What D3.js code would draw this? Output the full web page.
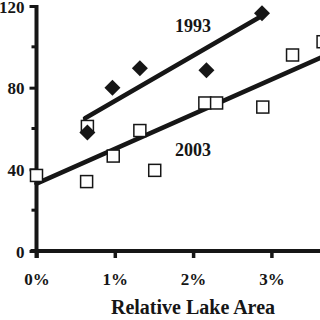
<!DOCTYPE html>
<html><head><meta charset="utf-8">
<script src="https://cdn.jsdelivr.net/npm/d3@7"></script>
<style>html,body{margin:0;padding:0;background:#fff;overflow:hidden}</style>
</head><body>
<svg id="c" width="320" height="320"></svg>
<script>
// Data
const x1993 = [0.65, 0.97, 1.32, 2.17, 2.88];
const y1993 = [58, 80, 89.5, 88.5, 116.5];
const x2003 = [0, 0.64, 0.65, 0.98, 1.32, 1.51, 2.15, 2.30, 2.89, 3.27, 3.66];
const y2003 = [37, 34, 61, 46.5, 59, 39.5, 72.5, 72.5, 70.5, 96, 102.5];
const fit1993 = [[0.62, 65], [2.87, 115]];
const fit2003 = [[0, 33], [3.65, 95]];
const xTicks = [0, 1, 2, 3];
const xTickLabels = ["0%", "1%", "2%", "3%"];
const yTicks = [0, 40, 80, 120];
const yMinorTicks = [20, 60, 100];
const seriesLabels = [{text: "1993", x: 2.0, y: 107.5}, {text: "2003", x: 2.0, y: 46.5}];
const xTitle = "Relative Lake Area";

const ink = "#161616";
const font = "'Liberation Serif','Times New Roman',serif";
const svg = d3.select("#c");
const x = d3.scaleLinear().domain([0, 4]).range([36.5, 349.7]);
const y = d3.scaleLinear().domain([0, 120]).range([251, 6]);

// axes
const gx = svg.append("g").attr("transform", `translate(0,${y(0)})`)
  .call(d3.axisBottom(x).tickValues(xTicks).tickSize(7).tickFormat((d,i)=>xTickLabels[i]));
gx.select(".domain").attr("d", `M${x(0)-6},0H320`).attr("stroke", ink).attr("stroke-width", 4);
gx.selectAll(".tick line").attr("stroke", ink).attr("stroke-width", 3.5);
gx.selectAll(".tick text").attr("font-family", font).attr("font-weight", "bold")
  .attr("font-size", 17).attr("fill", ink).attr("dy", 0).attr("y", 34);

const gy = svg.append("g").attr("transform", `translate(${x(0)},0)`)
  .call(d3.axisLeft(y).tickValues(yTicks).tickSize(7).tickFormat(d3.format("d")));
gy.select(".domain").attr("d", `M0,${y(120)-1}V${y(0)+7}`).attr("stroke", ink).attr("stroke-width", 4);
gy.selectAll(".tick line").attr("stroke", ink).attr("stroke-width", 3);
gy.selectAll(".tick text").attr("font-family", font).attr("font-weight", "bold")
  .attr("font-size", 17).attr("fill", ink).attr("x", -12).attr("dy", "0.36em");
gy.selectAll(".minor").data(yMinorTicks).enter().append("line")
  .attr("x1", -5).attr("x2", 0).attr("y1", d=>y(d)).attr("y2", d=>y(d))
  .attr("stroke", ink).attr("stroke-width", 3);

// regression lines
const line = d3.line().x(d=>x(d[0])).y(d=>y(d[1]));
[fit1993, fit2003].forEach(f => svg.append("path").attr("d", line(f))
  .attr("fill", "none").attr("stroke", ink).attr("stroke-width", 4.5).attr("stroke-linecap", "round"));

// 2003 squares
const s = 12;
svg.selectAll(".sq").data(x2003.map((v,i)=>[v, y2003[i]])).enter().append("rect")
  .attr("x", d=>x(d[0])-s/2).attr("y", d=>y(d[1])-s/2).attr("width", s).attr("height", s)
  .attr("fill", "#fff").attr("stroke", ink).attr("stroke-width", 1.5);

// 1993 diamonds
const dsz = 8;
svg.selectAll(".dm").data(x1993.map((v,i)=>[v, y1993[i]])).enter().append("path")
  .attr("d", d=>{const cx=x(d[0]), cy=y(d[1]); return `M${cx},${cy-dsz}L${cx+dsz},${cy}L${cx},${cy+dsz}L${cx-dsz},${cy}Z`;})
  .attr("fill", ink);

// series labels
svg.selectAll(".lab").data(seriesLabels).enter().append("text")
  .attr("x", d=>x(d.x)).attr("y", d=>y(d.y)).attr("text-anchor", "middle")
  .attr("font-family", font).attr("font-weight", "bold").attr("font-size", 18).attr("fill", ink)
  .text(d=>d.text);

svg.append("text").attr("x", 193).attr("y", 314).attr("text-anchor", "middle")
  .attr("font-family", font).attr("font-weight", "bold").attr("font-size", 20).attr("fill", ink)
  .text(xTitle);
</script>
</body></html>
